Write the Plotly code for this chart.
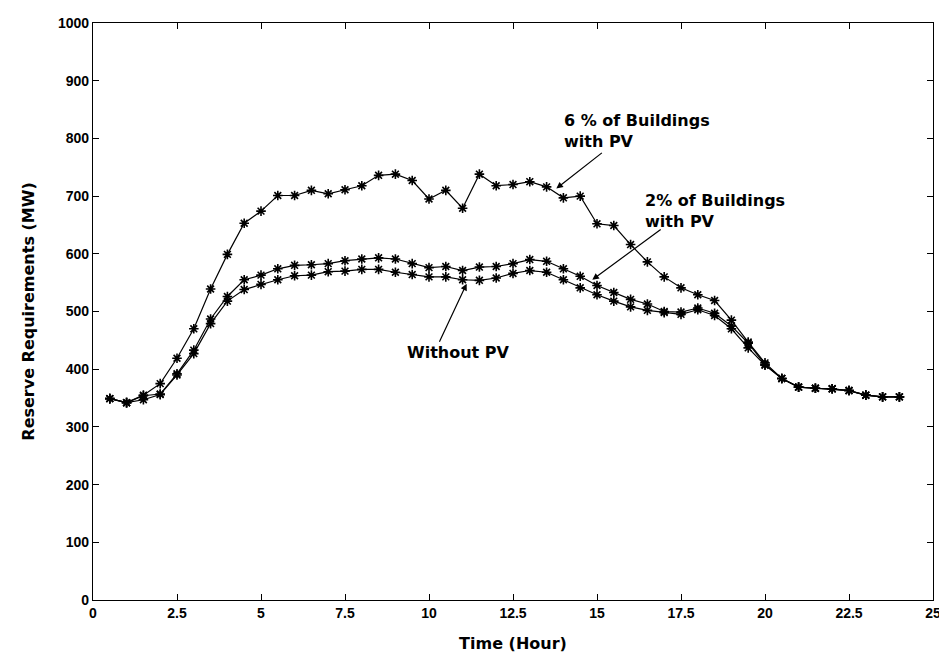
import plotly.graph_objects as go

hours = [0.5 * i for i in range(1, 49)]

pv6 = [349, 342, 355, 375, 419, 470, 539, 599, 653, 674, 701, 701, 710, 704, 711, 718, 736,
       738, 727, 695, 710, 679, 738, 718, 720, 725, 716, 697, 700, 652, 649, 616, 586, 560,
       541, 529, 519, 485, 447, 411, 384, 369, 367, 366, 363, 355, 352, 352]
pv2 = [349, 342, 354, 357, 392, 433, 487, 526, 555, 563, 574, 580, 581, 583, 588, 591, 593,
       591, 583, 576, 578, 571, 577, 578, 583, 590, 587, 574, 561, 545, 533, 521, 513, 500,
       499, 506, 497, 475, 445, 408, 384, 369, 367, 366, 363, 355, 352, 352]
nopv = [349, 342, 347, 356, 390, 427, 479, 518, 538, 547, 555, 562, 563, 569, 570, 573, 573,
        568, 564, 560, 560, 555, 554, 558, 566, 571, 568, 555, 541, 529, 518, 508, 502, 498,
        495, 503, 493, 470, 437, 407, 384, 369, 367, 366, 363, 355, 352, 352]

x_ticks = [0, 2.5, 5, 7.5, 10, 12.5, 15, 17.5, 20, 22.5, 25]
x_labels = ["0", "2.5", "5", "7.5", "10", "12.5", "15", "17.5", "20", "22.5", "25"]
y_ticks = list(range(0, 1001, 100))

TICK_FONT = "Liberation Sans, Arial, sans-serif"
TEXT_FONT = "DejaVu Sans, Liberation Sans, sans-serif"

fig = go.Figure()
for name, vals in [("6 % of Buildings with PV", pv6), ("2% of Buildings with PV", pv2), ("Without PV", nopv)]:
    fig.add_trace(go.Scatter(
        x=hours, y=vals, mode="lines+markers", name=name,
        line=dict(color="black", width=1.2),
        marker=dict(symbol="asterisk-open", size=8, color="black", line=dict(color="black", width=1.6)),
        showlegend=False,
    ))

annos = [
    dict(text="<b>6 % of Buildings<br>with PV</b>", x=13.95, y=812),
    dict(text="<b>2% of Buildings<br>with PV</b>", x=16.38, y=675),
    dict(text="<b>Without PV</b>", x=9.28, y=429),
]
for a in annos:
    fig.add_annotation(x=a["x"], y=a["y"], text=a["text"], showarrow=False, xanchor="left",
                       yanchor="middle", align="left",
                       font=dict(family=TEXT_FONT, size=16, color="black"))

arrows = [
    (13.79, 713, 15.19, 777),
    (14.86, 555, 16.94, 644),
    (11.12, 548, 10.29, 445),
]
for hx, hy, tx, ty in arrows:
    fig.add_annotation(x=hx, y=hy, ax=tx, ay=ty, axref="x", ayref="y", xref="x", yref="y",
                       text="", showarrow=True, arrowhead=2, arrowsize=1.1, arrowwidth=1.2,
                       arrowcolor="black")

axis_common = dict(
    showgrid=False, zeroline=False, showline=True, linecolor="black", linewidth=1.3,
    mirror="ticks", ticks="inside", ticklen=6, tickcolor="black", tickwidth=1.2,
    tickfont=dict(family=TICK_FONT, size=14, color="black"), automargin=False,
)
fig.update_xaxes(range=[0, 25], tickvals=x_ticks, ticktext=[f"<b>{t}</b>" for t in x_labels],
                 title=dict(text="<b>Time (Hour)</b>", font=dict(family=TEXT_FONT, size=16, color="black"), standoff=17),
                 **axis_common)
fig.update_yaxes(range=[0, 1000], tickvals=y_ticks, ticktext=[f"<b>{t}</b>" for t in y_ticks],
                 title=dict(text="<b>Reserve Requirements (MW)</b>", font=dict(family=TEXT_FONT, size=16, color="black"), standoff=19),
                 **axis_common)

fig.update_layout(
    width=947, height=655,
    margin=dict(l=85, r=22, t=15, b=63),
    paper_bgcolor="white", plot_bgcolor="white",
    font=dict(family=TICK_FONT, color="black"),
)

fig.write_html("out.html")
